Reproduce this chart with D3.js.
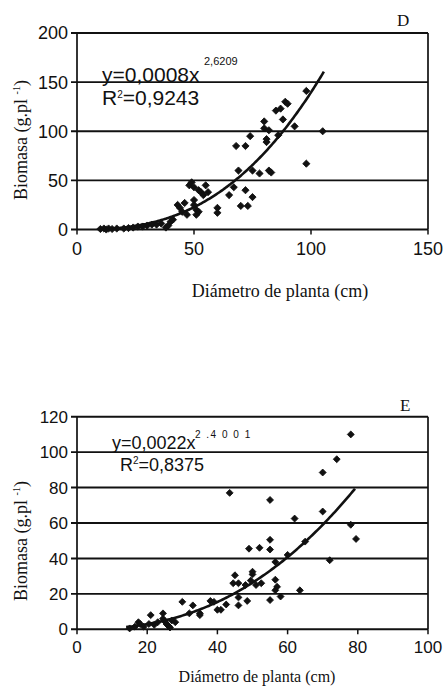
<!DOCTYPE html>
<html>
<head>
<meta charset="utf-8">
<script src="https://cdn.jsdelivr.net/npm/d3@7"></script>
<style>
  body { margin: 0; background: #fff; }
  text { fill: #111; }
</style>
</head>
<body>
<svg id="chart" width="443" height="687"></svg>
<script>
// panel D data (diameter cm, biomass g/pl)
var dDiametro = [10, 11.5, 12.5, 13.5, 15, 17, 20, 22, 24, 26, 28, 30, 32, 34, 36, 38, 39, 40, 41,
  43, 44, 46, 45, 47, 48, 49, 50, 50, 50, 51, 51, 52, 52, 53, 54, 55, 56, 60, 60, 65, 67, 68, 69, 70,
  72, 72, 73, 74, 75, 75, 78, 80, 80, 81, 81, 82, 82, 83, 85, 86, 87, 88, 89, 90, 93, 98, 98, 105];
var dBiomasa = [0.5, 1, 0, 1, 0.5, 1, 1, 1.5, 2, 3, 3, 4, 5, 5, 6, 2, 4, 8, 10,
  25, 22, 27, 18, 15, 45, 48, 43, 30, 25, 20, 15, 18, 40, 38, 35, 45, 38, 22, 17, 35, 43, 85, 60, 24,
  85, 40, 24, 95, 33, 60, 57, 110, 103, 92, 89, 101, 60, 58, 121, 96, 123, 112, 130, 128, 105, 141, 67, 100];

// panel E data
var eDiametro = [15, 16.5, 17.5, 18, 19, 20.5, 21, 22, 23, 24.5, 24.5, 25, 25.5, 26, 26.5, 27, 28, 30,
  33, 32, 35, 35, 38, 39, 40, 41, 42.5, 43.5, 45, 44.5, 46, 46, 46, 48, 48.5, 49, 49.5, 50, 50, 51,
  52.5, 52, 55, 55, 55, 55, 56.5, 56.5, 56.5, 57, 58, 60, 62, 63.5, 65, 70, 70, 72, 74, 78, 78, 79.5];
var eBiomasa = [0.5, 1.5, 4, 3, 1.5, 3, 8, 2.5, 4, 9, 6, 4.5, 3, 2, 1, 5, 4, 15.5,
  13.5, 9, 9, 8, 16, 15.5, 11, 11, 14, 77, 30.5, 26, 26, 18, 13.5, 25, 16, 45.5, 27.5, 31, 32.5, 25,
  26, 46, 45, 50.5, 16.5, 73, 38, 28, 22, 24, 18.5, 42, 62.5, 22, 49.5, 66.5, 88.5, 39, 96, 110, 59, 51];

// fitted power curves y = a * x^b
var dFit = [0.0008, 2.6209];
var eFit = [0.0022, 2.4001];

var dXTicks = [0, 50, 100, 150];
var dYTicks = [0, 50, 100, 150, 200];
var eXTicks = [0, 20, 40, 60, 80, 100];
var eYTicks = [0, 20, 40, 60, 80, 100, 120];

var svg = d3.select("#chart");
var ink = "#111";

function drawPanel(p) {
  var x = d3.scaleLinear().domain([0, p.xTicks[p.xTicks.length - 1]]).range([77, 428]);
  var y = d3.scaleLinear().domain([0, p.yTicks[p.yTicks.length - 1]]).range([p.bottom, p.top]);
  var g = svg.append("g");

  // horizontal grid lines
  g.selectAll(".grid").data(p.yTicks).enter().append("line")
    .attr("x1", 71).attr("x2", x.range()[1])
    .attr("y1", d => y(d)).attr("y2", d => y(d))
    .attr("stroke", ink).attr("stroke-width", 1.9);

  // left and right borders
  [x.range()[0], x.range()[1]].forEach(function (px) {
    g.append("line").attr("x1", px).attr("x2", px)
      .attr("y1", y.range()[1]).attr("y2", y.range()[0])
      .attr("stroke", ink).attr("stroke-width", 1.7);
  });

  // x ticks
  g.selectAll(".xt").data(p.xTicks).enter().append("line")
    .attr("x1", d => x(d)).attr("x2", d => x(d))
    .attr("y1", p.bottom).attr("y2", p.bottom + 5)
    .attr("stroke", ink).attr("stroke-width", 1.5);

  g.selectAll(".yl").data(p.yTicks).enter().append("text")
    .attr("x", 68).attr("y", d => y(d)).attr("dy", "0.36em")
    .attr("text-anchor", "end")
    .style("font", p.tickFont)
    .text(d => d);

  g.selectAll(".xl").data(p.xTicks).enter().append("text")
    .attr("x", d => x(d)).attr("y", p.xLabelY)
    .attr("text-anchor", "middle")
    .style("font", p.tickFont)
    .text(d => d);

  // trend line
  var line = d3.line().x(d => x(d)).y(d => y(p.fit[0] * Math.pow(d, p.fit[1])));
  g.append("path")
    .datum(d3.range(p.fitFrom, p.fitTo, 0.5).concat([p.fitTo]))
    .attr("d", line)
    .attr("fill", "none").attr("stroke", ink).attr("stroke-width", 2.6);

  // points
  var sym = d3.symbol().type(d3.symbolSquare).size(p.pointSize);
  g.selectAll(".pt").data(p.xs).enter().append("path")
    .attr("d", sym)
    .attr("transform", (d, i) => `translate(${x(d)},${y(p.ys[i])}) rotate(45)`)
    .attr("fill", ink)
    .attr("stroke", ink).attr("stroke-width", 0.8).attr("stroke-linejoin", "round");

  // equation
  var eq = g.append("text").attr("x", p.eqX).attr("y", p.eqY).style("font", p.eqFont);
  eq.append("tspan").text(p.eqText);
  g.append("text").attr("x", p.supX).attr("y", p.supY)
    .style("font", p.supFont).style("letter-spacing", p.supSpacing)
    .text(p.supText);
  var r2 = g.append("text").attr("x", p.r2X).attr("y", p.r2Y).style("font", p.eqFont);
  r2.append("tspan").text("R");
  r2.append("tspan").attr("dy", -7).style("font-size", "10px").text("2");
  r2.append("tspan").attr("dy", 7).text("=" + p.r2Text);

  // panel letter
  g.append("text").attr("x", p.letterX).attr("y", p.letterY)
    .style("font", "17px 'Liberation Serif'").text(p.letter);

  // axis titles
  g.append("text").attr("x", p.xTitleX).attr("y", p.xTitleY)
    .attr("text-anchor", "middle")
    .style("font", p.titleFont)
    .text("Diámetro de planta (cm)");

  var yt = g.append("text")
    .attr("transform", `translate(27,${p.yTitleY}) rotate(-90)`)
    .attr("text-anchor", "middle")
    .style("font", "18px 'Liberation Serif'");
  yt.append("tspan").text("Biomasa (g.pl ");
  yt.append("tspan").attr("dy", -7).style("font-size", "10px").text("-1");
  yt.append("tspan").attr("dy", 7).text(")");
}

drawPanel({
  xs: dDiametro, ys: dBiomasa, fit: dFit, fitFrom: 10, fitTo: 105.5,
  xTicks: dXTicks, yTicks: dYTicks, top: 33, bottom: 229.5,
  xLabelY: 255, tickFont: "18px 'Liberation Sans'", pointSize: 26,
  eqText: "y=0,0008x", eqX: 102, eqY: 82, eqFont: "21px 'Liberation Sans'",
  supText: "2,6209", supX: 204, supY: 65, supFont: "11px 'Liberation Sans'", supSpacing: "0px",
  r2Text: "0,9243", r2X: 102, r2Y: 105,
  letter: "D", letterX: 397, letterY: 26,
  xTitleX: 280, xTitleY: 297, titleFont: "18px 'Liberation Serif'", yTitleY: 140
});

drawPanel({
  xs: eDiametro, ys: eBiomasa, fit: eFit, fitFrom: 14, fitTo: 79.2,
  xTicks: eXTicks, yTicks: eYTicks, top: 416.7, bottom: 629.3,
  xLabelY: 653, tickFont: "17px 'Liberation Sans'", pointSize: 24,
  eqText: "y=0,0022x", eqX: 112, eqY: 449, eqFont: "18px 'Liberation Sans'",
  supText: "2 .4 0 0 1", supX: 195, supY: 438, supFont: "10px 'Liberation Sans'", supSpacing: "1.5px",
  r2Text: "0,8375", r2X: 120, r2Y: 471,
  letter: "E", letterX: 400, letterY: 411,
  xTitleX: 257, xTitleY: 682, titleFont: "16px 'Liberation Serif'", yTitleY: 541
});
</script>
</body>
</html>
